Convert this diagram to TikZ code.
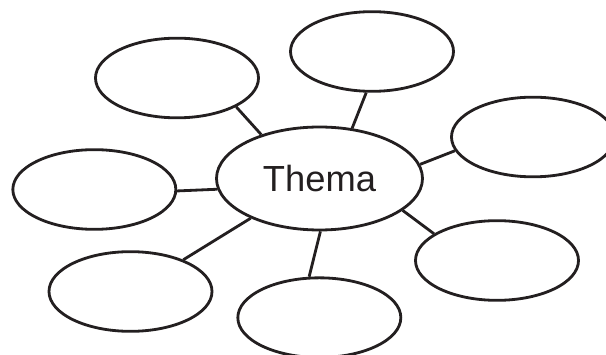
\documentclass[tikz,border=0pt]{standalone}
\usepackage{fontspec}
\setmainfont{Liberation Sans}
\usetikzlibrary{shapes.geometric}
\definecolor{ink}{RGB}{35,31,32}

\begin{document}
\begin{tikzpicture}[line width=2.4pt,draw=ink,
  blob/.style={draw,ellipse,inner sep=0pt,minimum width=4.89cm,minimum height=2.39cm},
  thema/.style={draw,ellipse,inner sep=0pt,minimum width=6.18cm,minimum height=3.09cm,
    text=ink,font=\fontsize{31}{37}\selectfont}]
\useasboundingbox (0,0) rectangle (18.18,10.65);
\node[thema] (c) at (9.585,5.295) {Thema};
\node[blob] (o1) at (5.31,8.31) {};
\node[blob] (o2) at (11.16,9.105) {};
\node[blob] (o3) at (15.99,6.54) {};
\node[blob] (o4) at (2.83,4.965) {};
\node[blob] (o5) at (14.91,2.835) {};
\node[blob] (o6) at (3.915,1.905) {};
\node[blob] (o7) at (9.58,1.12) {};
\draw[ink] (c.143.6) -- (o1.-26);
\draw[ink] (c.57.2) -- (o2.-98);
\draw[ink] (c.8.7) -- (o3.-170);
\draw[ink] (c.186.9) -- (o4.-1);
\draw[ink] (c.-21.6) -- (o5.157);
\draw[ink] (c.210.8) -- (o6.31.6);
\draw[ink] (c.-89.5) -- (o7.104.5);
\end{tikzpicture}
\end{document}
